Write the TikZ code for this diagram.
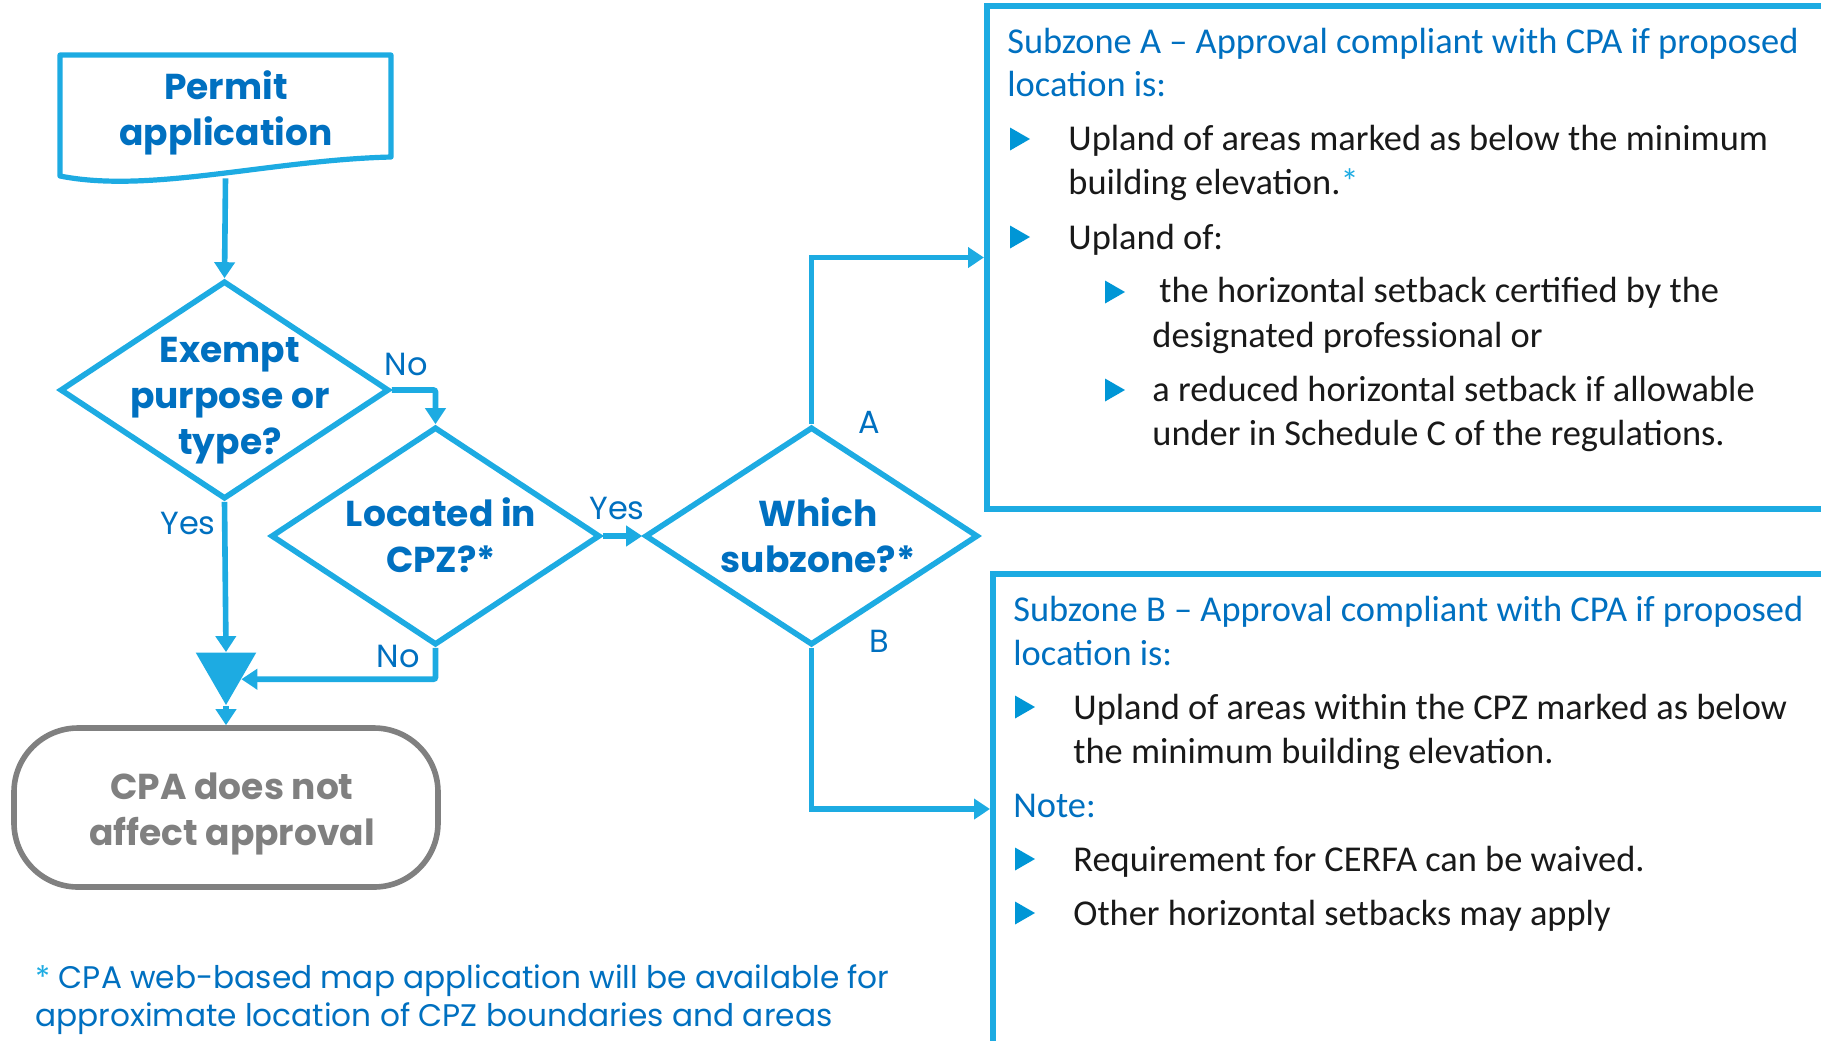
\documentclass[tikz,border=0pt]{standalone}
\usepackage{fontspec}
\setmainfont{Carlito}
\newfontfamily\gothic{Poppins}
\usetikzlibrary{arrows.meta,positioning,shapes.geometric,calc}

\definecolor{flowline}{RGB}{29,171,226}
\definecolor{textblue}{RGB}{0,112,192}
\definecolor{bulletblue}{RGB}{0,150,214}
\definecolor{greyline}{RGB}{128,128,128}

\begin{document}
\begin{tikzpicture}[x=0.5pt, y=-0.5pt,
flow/.style={draw=flowline, line width=2.8pt},
arr/.style={flow, -{Triangle[length=8pt,width=10pt]}},
decision/.style={diamond, flow, inner sep=0pt, minimum width=164.5pt, minimum height=109pt},
ask/.style={font=\gothic\bfseries\fontsize{18}{23}\selectfont, text=textblue, align=center, inner sep=0pt},
answer/.style={font=\gothic\fontsize{16}{19}\selectfont, text=textblue, inner sep=0pt},
merge/.style={regular polygon, regular polygon sides=3, shape border rotate=180, fill=flowline, inner sep=0pt, minimum size=35pt},
endbox/.style={draw=greyline, line width=2.8pt, rounded corners=32pt, minimum width=212pt, minimum height=79.5pt},
panel/.style={draw=flowline, line width=3pt},
head/.style={font=\fontsize{18.2}{22}\selectfont, text=textblue, anchor=base west, inner sep=0pt},
body/.style={font=\fontsize{18.2}{22}\selectfont, text=black!90, anchor=base west, inner sep=0pt},
fnote/.style={font=\gothic\fontsize{15.6}{19}\selectfont, text=textblue, anchor=base west, inner sep=0pt},
tick/.pic={\fill[bulletblue] (-10,-11.5) -- (10,0) -- (-10,11.5) -- cycle;}
]
\useasboundingbox (0,0) rectangle (1821,1040);

% start: document shape with wavy foot
\node[minimum width=165.5pt, minimum height=61.5pt] (permit) at (225.5,116.5) {};
\draw[flow, line width=2.6pt, line join=round] (60,176) -- (60,55) -- (391,55) -- (391,157)
  .. controls (270,160) and (150,194) .. cycle;
\node[ask] (permittxt) at (226,113) {Permit\\application};

% decisions
\node[decision] (exempt) at (224.5,390) {};
\node[ask] (exempttxt) at (230,401) {Exempt\\purpose or\\type?};
\node[decision] (located) at (435.5,536) {};
\node[ask] (locatedtxt) at (441,535) {Located in\\CPZ?*};
\node[decision, minimum width=166.5pt] (which) at (811.5,536) {};
\node[ask] (whichtxt) at (818,535) {Which\\subzone?*};

% merge and end
\node[merge] (join) at (226,670) {};
\node[endbox] (noeffect) at (226,807.5) {};
\node[ask, text=greyline] (noeffecttxt) at (232,814) {CPA does not\\affect approval};

% subzone panels (run off the page edge)
\node[panel, minimum width=421.5pt, minimum height=251.5pt] (subA) at (1408.5,257.5) {};
\node[panel, minimum width=418.5pt, minimum height=235pt] (subB) at (1411.5,809) {};

% connectors
\draw[arr] (permit.south) -- (exempt.north);
\draw[arr, rounded corners=1pt] (exempt.east) -| (located.north);
\draw[arr] (exempt.south) -- (join.north);
\draw[arr, rounded corners=1pt] (located.south) |- (join.-31);
\draw[arr] (join.south) -- (noeffect.north);
\draw[arr] (located.east) -- (which.west);
\draw[arr] (which.north) |- (subA.west);
\draw[arr] (which.south) |- (subB.west);

% branch labels
\node[answer] (noA) at (406,364) {No};
\node[answer] (yesA) at (188,523) {Yes};
\node[answer] (yesB) at (617,508) {Yes};
\node[answer] (noB) at (398,656) {No};
\node[answer] (zoneA) at (869,422) {A};
\node[answer] (zoneB) at (879,641) {B};

% subzone A text
\node[head] (aTitle1) at (1007,53) {Subzone A – Approval compliant with CPA if proposed};
\node[head] (aTitle2) at (1007,96) {location is:};
\pic at (1020,139) {tick};
\node[body] (aItem1a) at (1068,150) {Upland of areas marked as below the minimum};
\node[body] (aItem1b) at (1068,194) {building elevation.{\color{flowline}*}};
\pic at (1020,237) {tick};
\node[body] (aItem2) at (1068,249) {Upland of:};
\pic at (1115,292) {tick};
\node[body] (aSub1a) at (1159,302) {the horizontal setback certified by the};
\node[body] (aSub1b) at (1152,347) {designated professional or};
\pic at (1115,390) {tick};
\node[body] (aSub2a) at (1152,401) {a reduced horizontal setback if allowable};
\node[body] (aSub2b) at (1152,445) {under in Schedule C of the regulations.};

% subzone B text
\node[head] (bTitle1) at (1013,621) {Subzone B – Approval compliant with CPA if proposed};
\node[head] (bTitle2) at (1013,665) {location is:};
\pic at (1025,707) {tick};
\node[body] (bItem1a) at (1073,719) {Upland of areas within the CPZ marked as below};
\node[body] (bItem1b) at (1073,763) {the minimum building elevation.};
\node[head] (bNote) at (1013,817) {Note:};
\pic at (1025,859) {tick};
\node[body] (bItem2) at (1073,871) {Requirement for CERFA can be waived.};
\pic at (1025,913) {tick};
\node[body] (bItem3) at (1073,925) {Other horizontal setbacks may apply};

% footnote
\node[fnote] (fn1) at (35,988) {{\color{flowline}*} CPA web-based map application will be available for};
\node[fnote] (fn2) at (35,1026) {approximate location of CPZ boundaries and areas};
\end{tikzpicture}
\end{document}
